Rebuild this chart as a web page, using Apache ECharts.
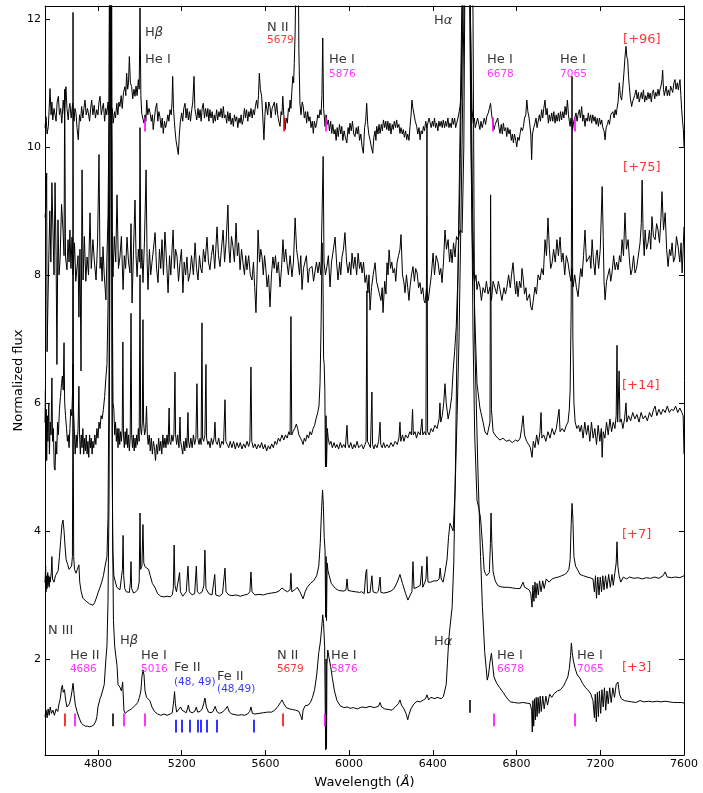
<!DOCTYPE html>
<html>
<head>
<meta charset="utf-8">
<script src="https://cdn.jsdelivr.net/npm/echarts@6/dist/echarts.min.js"></script>
<style>
  html, body { margin: 0; padding: 0; background: #fff; }
  #chart { width: 703px; height: 793px; }
</style>
</head>
<body>
<div id="chart"></div>
<script>
// Wavelength axis ticks and flux axis ticks
const waveTicks = [4800, 5200, 5600, 6000, 6400, 6800, 7200, 7600];
const fluxTicks = [2, 4, 6, 8, 10, 12];

// Epoch tags, top to bottom
const epochs = ['[+96]', '[+75]', '[+14]', '[+7]', '[+3]'];

// Spectra as [wavelength (Å), normalized flux + offset]
const spec96 = [[4547,10.3],[4552,10.47],[4557,10.2],[4563,10.32],[4567,10.6],[4571,10.91],[4576,10.5],[4580,10.7],[4584,10.42],[4590,10.6],[4595,10.58],[4600,10.4],[4605,10.7],[4611,10.79],[4616,10.5],[4622,10.6],[4627,10.37],[4630,10.5],[4634,10.73],[4640,10.5],[4647,10.94],[4652,10.6],[4658,10.42],[4662,10.6],[4666,10.68],[4672,10.45],[4679,10.68],[4686,10.4],[4690,10.6],[4695,10.53],[4700,10.3],[4706,10.11],[4712,10.5],[4717,10.4],[4722,10.63],[4728,10.45],[4733,10.6],[4738,10.73],[4744,10.5],[4750,10.6],[4754,10.53],[4760,10.4],[4765,10.6],[4770,10.73],[4776,10.5],[4782,10.65],[4788,10.45],[4794,10.58],[4800,10.5],[4805,10.7],[4810,10.79],[4816,10.5],[4821,10.6],[4826,10.68],[4832,10.4],[4837,10.6],[4842,10.5],[4848,10.7],[4853,10.5],[4858,10.65],[4863,10.45],[4868,10.6],[4873,10.37],[4879,10.55],[4884,10.45],[4890,10.68],[4895,10.5],[4900,10.7],[4905,10.63],[4911,10.8],[4916,10.6],[4922,10.85],[4929,10.94],[4933,10.8],[4937,11.15],[4942,10.9],[4946,11.0],[4950,11.41],[4955,11.0],[4961,10.94],[4966,10.75],[4972,10.9],[4977,10.79],[4982,10.95],[4987,10.8],[4993,11.05],[4997,10.9],[5001,12.17],[5005,10.8],[5009,10.53],[5014,10.45],[5020,10.37],[5025,10.5],[5029,10.4],[5033,10.73],[5038,10.5],[5044,10.6],[5049,10.53],[5055,10.4],[5060,10.5],[5064,10.27],[5070,10.45],[5075,10.6],[5081,10.68],[5086,10.4],[5091,10.55],[5096,10.47],[5102,10.3],[5107,10.45],[5112,10.21],[5118,10.4],[5123,10.3],[5128,10.37],[5134,10.5],[5139,10.4],[5144,10.58],[5150,10.5],[5154,10.7],[5157,11.1],[5161,10.6],[5165,10.4],[5168,10.27],[5173,10.1],[5178,10.0],[5184,9.88],[5189,10.2],[5194,10.4],[5200,10.53],[5205,10.4],[5210,10.6],[5216,10.68],[5221,10.45],[5226,10.6],[5232,10.42],[5237,10.55],[5242,10.4],[5248,10.58],[5253,10.7],[5259,11.1],[5263,10.6],[5268,10.5],[5272,10.42],[5278,10.6],[5283,10.45],[5288,10.58],[5293,10.4],[5298,10.6],[5303,10.68],[5309,10.45],[5314,10.6],[5320,10.47],[5325,10.6],[5330,10.4],[5335,10.58],[5340,10.45],[5346,10.55],[5351,10.37],[5356,10.5],[5361,10.4],[5367,10.58],[5372,10.42],[5378,10.55],[5383,10.47],[5388,10.6],[5394,10.45],[5399,10.63],[5404,10.45],[5410,10.5],[5415,10.37],[5420,10.55],[5426,10.4],[5431,10.53],[5436,10.35],[5442,10.45],[5447,10.32],[5452,10.5],[5458,10.4],[5463,10.47],[5468,10.3],[5474,10.45],[5479,10.37],[5484,10.5],[5489,10.35],[5494,10.42],[5500,10.6],[5505,10.45],[5510,10.58],[5516,10.4],[5521,10.55],[5526,10.47],[5531,10.6],[5537,10.45],[5542,10.58],[5547,10.5],[5553,10.65],[5558,10.73],[5563,10.6],[5567,10.8],[5571,11.15],[5576,10.9],[5582,10.79],[5587,10.5],[5593,10.11],[5598,10.5],[5602,10.7],[5606,10.68],[5611,10.5],[5616,10.7],[5622,10.63],[5627,10.45],[5632,10.6],[5638,10.58],[5643,10.7],[5648,10.5],[5654,10.68],[5659,10.5],[5664,10.4],[5670,10.32],[5675,10.55],[5679,10.5],[5683,10.79],[5688,10.5],[5694,10.27],[5699,10.45],[5705,10.37],[5710,10.6],[5714,10.55],[5718,10.73],[5722,10.6],[5726,10.85],[5731,11.1],[5735,11.0],[5738,11.3],[5742,11.78],[5746,12.6],[5750,13.5],[5754,13.5],[5757,13.0],[5760,11.5],[5765,10.68],[5770,10.5],[5776,10.7],[5781,10.63],[5786,10.45],[5792,10.55],[5797,10.37],[5802,10.55],[5808,10.4],[5813,10.47],[5818,10.3],[5824,10.4],[5829,10.21],[5834,10.4],[5840,10.3],[5845,10.37],[5850,10.5],[5856,10.45],[5861,10.58],[5866,10.5],[5870,10.8],[5874,11.7],[5878,10.6],[5882,10.45],[5885,10.32],[5890,10.5],[5896,10.35],[5901,10.42],[5906,10.25],[5912,10.4],[5917,10.21],[5922,10.35],[5928,10.2],[5933,10.27],[5938,10.1],[5943,10.3],[5948,10.16],[5954,10.35],[5960,10.2],[5965,10.32],[5970,10.1],[5976,10.25],[5982,10.15],[5989,10.06],[5995,10.3],[6000,10.2],[6004,10.37],[6010,10.25],[6016,10.4],[6022,10.2],[6028,10.16],[6034,10.3],[6039,10.2],[6044,10.32],[6050,10.1],[6056,10.2],[6062,10.0],[6068,9.9],[6074,10.3],[6079,10.4],[6084,10.68],[6089,10.35],[6094,10.2],[6100,10.11],[6106,10.0],[6113,9.9],[6118,10.15],[6124,10.25],[6128,10.1],[6132,10.32],[6138,10.2],[6143,10.35],[6148,10.21],[6154,10.35],[6159,10.25],[6164,10.42],[6170,10.3],[6175,10.4],[6180,10.27],[6185,10.4],[6190,10.25],[6195,10.37],[6200,10.2],[6206,10.35],[6211,10.27],[6216,10.4],[6222,10.3],[6227,10.42],[6232,10.3],[6238,10.35],[6243,10.21],[6248,10.3],[6254,10.2],[6259,10.27],[6264,10.15],[6270,10.25],[6275,10.11],[6280,10.2],[6286,10.1],[6291,10.32],[6296,10.5],[6300,10.73],[6305,10.6],[6310,10.63],[6316,10.4],[6323,10.32],[6328,10.2],[6334,10.3],[6339,10.11],[6344,10.25],[6350,10.2],[6355,10.32],[6360,10.25],[6366,10.4],[6371,10.3],[6376,10.32],[6382,10.45],[6387,10.47],[6392,10.3],[6398,10.4],[6403,10.32],[6408,10.45],[6413,10.3],[6418,10.37],[6424,10.25],[6429,10.4],[6434,10.32],[6440,10.4],[6445,10.3],[6450,10.42],[6456,10.3],[6461,10.4],[6466,10.32],[6472,10.45],[6477,10.3],[6482,10.37],[6488,10.3],[6493,10.45],[6498,10.35],[6504,10.45],[6509,10.3],[6514,10.37],[6520,10.45],[6526,10.55],[6530,10.63],[6535,10.8],[6538,11.0],[6542,11.8],[6548,13],[6560,14],[6575,13],[6582,11.5],[6587,10.6],[6593,10.37],[6598,10.45],[6603,10.3],[6609,10.32],[6614,10.45],[6620,10.35],[6625,10.27],[6630,10.4],[6636,10.3],[6641,10.32],[6646,10.45],[6652,10.35],[6658,10.48],[6665,10.53],[6670,10.6],[6676,10.68],[6681,10.5],[6686,10.4],[6692,10.27],[6698,10.35],[6705,10.32],[6710,10.45],[6716,10.3],[6721,10.21],[6727,10.35],[6732,10.2],[6737,10.37],[6742,10.25],[6748,10.3],[6753,10.16],[6758,10.3],[6764,10.2],[6769,10.27],[6775,10.1],[6780,10.2],[6785,10.06],[6790,10.2],[6796,10.1],[6801,10.0],[6806,10.15],[6812,10.1],[6817,10.21],[6822,10.3],[6828,10.25],[6833,10.32],[6838,10.45],[6844,10.5],[6849,10.73],[6854,10.55],[6860,10.45],[6864,10.42],[6868,10.2],[6872,9.8],[6876,10.2],[6882,10.3],[6888,10.37],[6893,10.45],[6898,10.3],[6904,10.32],[6909,10.5],[6914,10.4],[6920,10.58],[6925,10.45],[6930,10.6],[6936,10.73],[6941,10.5],[6946,10.6],[6952,10.37],[6957,10.5],[6962,10.4],[6968,10.53],[6973,10.4],[6978,10.55],[6984,10.37],[6989,10.5],[6994,10.4],[7000,10.53],[7005,10.4],[7010,10.55],[7015,10.42],[7021,10.55],[7026,10.45],[7032,10.63],[7037,10.5],[7043,10.73],[7048,10.5],[7052,10.4],[7056,10.32],[7060,10.45],[7064,10.35],[7068,10.27],[7073,10.4],[7078,10.45],[7084,10.53],[7089,10.4],[7094,10.5],[7100,10.58],[7105,10.45],[7111,10.63],[7116,10.4],[7121,10.5],[7127,10.32],[7132,10.45],[7138,10.4],[7143,10.53],[7148,10.4],[7154,10.5],[7159,10.37],[7164,10.5],[7170,10.4],[7175,10.47],[7180,10.35],[7186,10.45],[7191,10.32],[7196,10.45],[7202,10.35],[7207,10.42],[7212,10.3],[7218,10.25],[7223,10.11],[7228,10.3],[7234,10.35],[7239,10.42],[7244,10.35],[7250,10.5],[7255,10.47],[7260,10.55],[7266,10.45],[7271,10.58],[7276,10.5],[7279,10.58],[7285,10.7],[7291,11.0],[7296,10.8],[7302,10.73],[7307,10.9],[7314,11.2],[7318,11.4],[7323,11.57],[7327,11.4],[7331,11.36],[7335,11.1],[7339,10.94],[7344,10.75],[7350,10.63],[7354,10.7],[7358,10.73],[7364,10.8],[7371,10.89],[7376,10.75],[7382,10.85],[7386,10.7],[7390,10.73],[7396,10.85],[7401,10.75],[7406,10.89],[7412,10.7],[7417,10.8],[7422,10.73],[7428,10.85],[7433,10.75],[7438,10.84],[7444,10.7],[7449,10.85],[7454,10.89],[7460,10.75],[7465,10.85],[7470,10.79],[7476,10.9],[7481,10.8],[7485,10.89],[7490,10.95],[7495,11.05],[7498,11.2],[7502,10.9],[7506,10.8],[7510,10.79],[7515,10.95],[7520,10.8],[7525,10.89],[7531,10.8],[7536,10.95],[7541,10.94],[7546,10.85],[7552,11.0],[7557,11.05],[7562,10.9],[7568,11.0],[7573,10.89],[7578,11.0],[7581,11.05],[7585,10.8],[7589,10.58],[7593,10.4],[7597,10.27],[7600,10.0]];

const spec75 = [[4547,8.9],[4552,9.06],[4555,9.59],[4557,6.8],[4561,7.56],[4566,8.4],[4570,9.0],[4575,8.2],[4580,9.44],[4585,8.7],[4590,8.0],[4595,9.44],[4600,8.3],[4604,6.6],[4609,8.86],[4614,8.0],[4619,8.23],[4626,9.1],[4633,8.7],[4638,8.3],[4641,10.9],[4645,8.28],[4652,8.08],[4657,8.55],[4662,8.2],[4666,8.7],[4671,8.1],[4676,8.59],[4681,8.0],[4688,8.5],[4694,7.9],[4700,7.88],[4705,8.3],[4709,7.34],[4714,8.4],[4719,6.5],[4724,9.64],[4729,7.92],[4735,8.6],[4742,7.9],[4748,8.28],[4755,8.0],[4762,8.97],[4768,8.1],[4776,8.55],[4783,8.2],[4791,7.92],[4798,8.5],[4805,9.88],[4810,8.1],[4815,8.28],[4820,7.9],[4824,8.44],[4830,8.0],[4838,7.61],[4843,8.3],[4848,8.91],[4853,10.5],[4858,16],[4863,12],[4867,8.4],[4872,7.97],[4878,8.6],[4885,8.2],[4891,9.25],[4898,8.1],[4905,8.28],[4912,8.6],[4920,7.77],[4926,8.3],[4932,8.1],[4939,8.59],[4946,8.2],[4953,8.03],[4958,8.8],[4963,7.56],[4970,8.4],[4977,9.17],[4982,8.3],[4987,7.97],[4993,8.4],[4998,8.2],[5001,10.3],[5005,8.1],[5010,8.4],[5015,7.88],[5022,8.5],[5030,9.64],[5035,8.2],[5039,7.77],[5046,8.4],[5052,8.0],[5058,8.19],[5065,8.4],[5073,8.66],[5080,8.1],[5087,7.88],[5094,8.4],[5100,8.1],[5106,8.55],[5113,8.0],[5120,8.67],[5128,8.2],[5135,7.72],[5142,8.3],[5148,8.0],[5154,8.39],[5159,8.7],[5165,8.1],[5171,8.4],[5178,8.28],[5185,7.9],[5192,8.19],[5199,8.4],[5206,7.72],[5212,8.2],[5219,8.0],[5225,8.28],[5232,7.9],[5240,8.03],[5247,8.3],[5256,8.0],[5264,8.5],[5271,8.1],[5278,7.92],[5285,8.3],[5291,8.1],[5297,8.03],[5304,8.4],[5312,8.2],[5321,8.59],[5328,8.2],[5335,8.08],[5342,8.3],[5350,8.47],[5358,8.1],[5363,8.4],[5369,8.75],[5376,8.3],[5383,8.13],[5390,8.4],[5398,8.7],[5405,8.2],[5412,8.5],[5421,9.09],[5426,8.4],[5431,8.19],[5438,8.6],[5445,8.44],[5452,8.2],[5460,8.81],[5466,8.3],[5472,8.5],[5479,8.08],[5486,8.4],[5493,8.19],[5500,8.0],[5506,8.3],[5512,8.08],[5520,8.3],[5528,8.0],[5536,7.92],[5543,8.2],[5549,7.8],[5555,7.41],[5560,8.0],[5565,8.7],[5572,8.2],[5578,8.4],[5584,8.28],[5590,8.0],[5596,8.3],[5602,8.1],[5608,7.81],[5615,8.0],[5622,7.5],[5629,8.0],[5636,8.28],[5642,8.1],[5648,8.3],[5655,8.03],[5662,8.2],[5670,7.81],[5677,8.1],[5684,8.55],[5690,8.2],[5697,8.4],[5703,8.19],[5710,8.0],[5718,8.3],[5727,7.97],[5734,8.2],[5742,8.89],[5749,8.4],[5756,8.23],[5763,8.0],[5769,8.3],[5775,7.77],[5782,8.1],[5789,8.08],[5796,8.3],[5804,7.88],[5810,8.1],[5816,8.13],[5823,8.13],[5830,7.9],[5837,7.92],[5844,8.2],[5851,8.03],[5858,8.2],[5865,8.0],[5871,7.97],[5876,9.85],[5880,8.2],[5887,8.0],[5894,8.13],[5901,8.3],[5909,7.81],[5916,8.2],[5925,8.4],[5933,8.59],[5940,8.2],[5947,7.92],[5955,8.2],[5960,8.0],[5966,8.28],[5973,8.4],[5980,8.66],[5988,8.2],[5995,8.03],[6002,8.2],[6008,8.0],[6014,8.34],[6021,8.1],[6028,8.28],[6036,8.0],[6043,8.34],[6050,8.1],[6056,8.2],[6062,8.03],[6069,8.2],[6076,7.88],[6083,8.0],[6090,7.72],[6095,8.0],[6100,7.45],[6107,7.8],[6115,8.0],[6124,8.19],[6131,7.9],[6138,7.88],[6145,7.7],[6152,7.6],[6158,7.8],[6162,7.41],[6170,7.9],[6176,7.7],[6181,8.19],[6186,8.0],[6191,8.39],[6198,8.1],[6204,8.2],[6210,8.03],[6217,8.1],[6223,7.9],[6229,8.19],[6236,8.3],[6243,8.4],[6248,8.63],[6255,8.0],[6261,7.9],[6267,7.72],[6274,8.0],[6280,7.8],[6286,7.6],[6291,7.81],[6298,8.0],[6305,8.13],[6312,7.9],[6318,8.1],[6325,8.03],[6332,7.8],[6339,7.88],[6345,7.7],[6352,7.8],[6358,7.6],[6363,7.56],[6370,7.8],[6378,7.6],[6386,7.81],[6393,8.0],[6401,8.34],[6408,8.0],[6416,8.3],[6425,8.19],[6432,8.0],[6438,8.1],[6444,7.88],[6451,8.2],[6458,8.7],[6465,8.4],[6473,8.55],[6480,8.2],[6486,8.4],[6492,8.19],[6499,8.5],[6506,8.28],[6513,8.6],[6520,8.55],[6530,8.7],[6540,8.66],[6548,10],[6556,14],[6565,16],[6575,13],[6582,10],[6588,8.6],[6592,8.08],[6600,7.9],[6606,8.0],[6611,7.77],[6618,7.9],[6625,7.81],[6632,7.6],[6640,7.8],[6649,7.72],[6656,7.9],[6664,7.7],[6673,7.81],[6680,7.6],[6688,7.9],[6697,7.88],[6705,7.7],[6713,7.9],[6721,7.77],[6730,7.6],[6740,7.8],[6747,7.7],[6754,7.81],[6762,8.0],[6770,7.8],[6776,8.0],[6783,8.19],[6790,7.9],[6796,7.7],[6801,7.9],[6807,7.66],[6814,7.9],[6821,7.8],[6826,8.1],[6831,7.97],[6838,7.7],[6845,7.8],[6850,7.6],[6855,7.61],[6862,7.7],[6868,7.5],[6874,7.45],[6880,7.6],[6888,7.81],[6895,7.7],[6903,8.0],[6912,7.92],[6920,8.1],[6928,8.0],[6936,8.55],[6943,8.3],[6950,8.89],[6957,8.4],[6963,8.1],[6970,8.19],[6977,8.4],[6985,8.2],[6993,8.55],[7000,8.3],[7008,8.59],[7015,8.2],[7022,8.34],[7030,8.0],[7038,8.3],[7046,8.19],[7054,8.0],[7060,7.9],[7065,8.1],[7070,7.81],[7078,8.0],[7086,7.8],[7094,7.66],[7100,7.9],[7107,8.1],[7113,7.97],[7120,8.3],[7127,8.7],[7134,8.2],[7142,8.19],[7150,8.3],[7155,8.1],[7161,8.55],[7168,8.2],[7175,8.0],[7180,8.3],[7185,8.39],[7192,8.1],[7200,8.4],[7209,9.38],[7214,8.6],[7218,7.9],[7223,7.61],[7230,7.9],[7237,7.88],[7244,8.1],[7250,7.9],[7256,8.03],[7264,8.3],[7271,8.08],[7278,8.2],[7285,8.08],[7292,8.3],[7298,8.2],[7304,8.55],[7311,8.3],[7318,8.97],[7325,8.4],[7333,8.55],[7340,8.2],[7346,8.0],[7352,8.08],[7359,8.3],[7366,8.03],[7373,8.1],[7381,8.28],[7390,8.5],[7396,8.8],[7400,9.48],[7405,8.6],[7410,8.3],[7414,8.7],[7421,8.4],[7428,8.5],[7435,8.7],[7441,8.4],[7447,8.91],[7454,8.6],[7462,8.55],[7469,8.8],[7476,8.7],[7483,8.5],[7490,8.9],[7495,9.3],[7502,8.7],[7510,8.97],[7517,8.4],[7524,8.13],[7531,8.4],[7537,8.3],[7543,8.5],[7550,8.2],[7557,8.28],[7564,8.6],[7572,8.44],[7580,8.2],[7586,8.5],[7591,8.03],[7596,8.4],[7600,8.75]];

const spec14 = [[4547,5.69],[4549,6.2],[4551,5.3],[4553,5.9],[4555,5.1],[4558,5.8],[4561,5.4],[4565,6.0],[4568,5.2],[4572,5.7],[4576,5.5],[4580,6.39],[4583,5.4],[4587,5.6],[4591,5.0],[4595,4.95],[4599,5.4],[4603,5.2],[4607,5.7],[4611,5.5],[4616,5.9],[4621,6.1],[4626,6.3],[4630,6.42],[4634,6.2],[4638,6.94],[4641,6.0],[4645,5.8],[4650,5.6],[4654,5.4],[4658,5.5],[4662,5.3],[4666,5.6],[4670,5.9],[4675,5.8],[4679,6.2],[4681,12.1],[4683,5.9],[4687,5.6],[4691,5.2],[4696,5.5],[4700,5.3],[4705,5.6],[4709,6.26],[4712,5.5],[4716,5.2],[4720,5.5],[4724,5.3],[4728,5.6],[4732,5.2],[4736,5.45],[4740,5.25],[4744,5.5],[4748,5.2],[4752,5.4],[4756,5.15],[4760,5.5],[4764,5.3],[4768,5.45],[4772,5.2],[4776,5.4],[4780,5.3],[4785,5.5],[4790,5.35],[4795,5.6],[4800,5.45],[4805,5.7],[4810,5.6],[4815,5.8],[4820,5.75],[4826,5.9],[4832,6.1],[4838,6.4],[4843,6.6],[4848,7.5],[4853,10.5],[4858,15],[4862,16],[4866,12],[4869,7.5],[4872,6.0],[4876,5.9],[4880,5.5],[4884,5.7],[4888,5.4],[4892,5.6],[4896,5.3],[4900,5.6],[4904,5.35],[4908,5.55],[4912,5.4],[4916,5.6],[4919,6.95],[4922,5.5],[4926,5.3],[4930,5.55],[4934,5.35],[4938,5.6],[4942,5.3],[4946,5.5],[4950,5.25],[4954,5.45],[4958,7.4],[4961,5.5],[4965,5.3],[4969,5.5],[4973,5.25],[4977,5.45],[4981,5.3],[4985,5.5],[4989,5.35],[4993,5.6],[4997,5.4],[5001,8.0],[5004,5.6],[5008,5.5],[5012,5.7],[5015,7.3],[5018,5.7],[5023,5.5],[5028,5.6],[5032,5.95],[5036,5.5],[5040,5.35],[5045,5.5],[5050,5.25],[5055,5.45],[5060,5.2],[5065,5.4],[5070,5.3],[5075,5.1],[5080,5.35],[5085,5.2],[5090,5.45],[5095,5.25],[5100,5.4],[5105,5.2],[5110,5.5],[5115,5.3],[5120,5.45],[5125,5.3],[5130,5.5],[5135,5.35],[5140,5.92],[5143,5.4],[5148,5.35],[5153,5.5],[5158,5.4],[5163,5.5],[5168,6.48],[5171,5.5],[5176,5.35],[5181,5.5],[5187,5.3],[5192,5.78],[5195,5.4],[5200,5.3],[5205,5.2],[5210,5.4],[5215,5.25],[5220,5.45],[5225,5.3],[5230,5.85],[5233,5.4],[5238,5.3],[5244,5.45],[5250,5.3],[5256,5.5],[5262,5.35],[5268,5.45],[5273,6.3],[5277,5.45],[5283,5.35],[5288,5.45],[5293,5.35],[5297,7.25],[5300,5.45],[5305,5.4],[5311,5.5],[5316,6.6],[5319,5.45],[5325,5.35],[5330,5.4],[5336,5.3],[5342,5.45],[5348,5.35],[5355,5.45],[5359,5.7],[5363,5.4],[5370,5.35],[5377,5.45],[5384,5.3],[5392,5.4],[5400,5.35],[5407,6.05],[5411,5.4],[5418,5.35],[5425,5.3],[5432,5.4],[5440,5.3],[5448,5.4],[5456,5.28],[5464,5.38],[5472,5.3],[5480,5.38],[5488,5.28],[5496,5.36],[5504,5.3],[5512,5.4],[5520,5.32],[5526,5.4],[5531,6.56],[5535,5.4],[5542,5.3],[5550,5.36],[5558,5.28],[5566,5.35],[5574,5.3],[5582,5.38],[5590,5.28],[5598,5.35],[5606,5.25],[5614,5.33],[5622,5.28],[5630,5.36],[5638,5.3],[5646,5.4],[5654,5.35],[5662,5.45],[5670,5.4],[5679,5.5],[5688,5.42],[5696,5.5],[5704,5.45],[5712,5.55],[5718,5.5],[5722,7.35],[5726,5.5],[5732,5.55],[5740,5.6],[5748,5.67],[5754,5.6],[5760,5.5],[5768,5.45],[5775,5.4],[5780,5.35],[5786,5.45],[5792,5.4],[5799,5.5],[5806,5.45],[5813,5.55],[5820,5.5],[5828,5.6],[5835,5.65],[5842,5.75],[5850,5.85],[5856,5.95],[5861,6.3],[5866,7.2],[5871,8.5],[5875,8.0],[5878,6.7],[5881,6.6],[5884,6.2],[5887,5.0],[5890,5.8],[5892,5.0],[5896,5.6],[5900,5.45],[5906,5.35],[5913,5.4],[5920,5.3],[5928,5.38],[5935,5.3],[5942,5.35],[5950,5.28],[5958,5.38],[5966,5.3],[5974,5.35],[5982,5.3],[5990,5.65],[5994,5.35],[6000,5.3],[6008,5.38],[6016,5.28],[6024,5.35],[6030,5.3],[6038,5.4],[6046,5.3],[6052,5.27],[6060,5.35],[6068,5.28],[6076,5.35],[6081,5.4],[6085,7.75],[6088,5.4],[6095,5.35],[6102,5.3],[6109,6.17],[6112,5.35],[6118,5.28],[6125,5.35],[6133,5.3],[6141,5.4],[6148,5.7],[6151,5.35],[6158,5.3],[6165,5.38],[6172,5.3],[6181,5.35],[6190,5.3],[6200,5.38],[6210,5.32],[6220,5.4],[6230,5.35],[6238,5.45],[6243,5.7],[6247,5.4],[6255,5.5],[6262,5.4],[6270,5.5],[6280,5.45],[6290,5.55],[6298,5.5],[6303,5.9],[6307,5.5],[6315,5.55],[6322,5.45],[6330,5.55],[6340,5.5],[6348,5.75],[6352,5.5],[6360,5.55],[6367,5.5],[6372,10.35],[6375,5.55],[6383,5.5],[6392,5.6],[6400,5.55],[6410,5.65],[6420,5.6],[6430,5.75],[6434,6.0],[6438,5.7],[6445,5.8],[6452,6.0],[6458,6.3],[6464,6.0],[6473,5.75],[6482,5.9],[6490,6.1],[6497,6.5],[6504,6.8],[6512,7.2],[6520,8.0],[6530,9.5],[6540,12],[6552,15],[6568,15],[6580,12],[6590,9],[6600,7.4],[6611,6.3],[6625,5.92],[6640,5.7],[6649,5.55],[6660,5.5],[6668,5.48],[6673,5.7],[6676,9.25],[6680,5.9],[6688,5.55],[6697,5.5],[6710,5.45],[6721,5.42],[6735,5.45],[6750,5.4],[6765,5.42],[6780,5.38],[6795,5.42],[6807,5.4],[6817,5.45],[6824,5.6],[6831,5.8],[6838,5.5],[6848,5.4],[6858,5.35],[6866,5.3],[6874,5.15],[6880,5.4],[6888,5.3],[6896,5.5],[6904,5.35],[6912,5.55],[6917,5.85],[6921,5.45],[6930,5.5],[6940,5.4],[6950,5.55],[6960,5.45],[6970,5.6],[6980,5.5],[6990,5.6],[7003,5.9],[7008,5.55],[7018,5.6],[7028,5.55],[7038,5.65],[7046,5.7],[7052,5.9],[7056,6.2],[7061,7.5],[7065,11.1],[7069,7.0],[7074,6.0],[7080,5.7],[7088,5.6],[7096,5.65],[7103,5.55],[7110,5.65],[7118,5.45],[7126,5.7],[7134,5.5],[7142,5.65],[7150,5.4],[7158,5.7],[7166,5.45],[7174,5.6],[7182,5.35],[7190,5.65],[7198,5.4],[7205,5.6],[7209,5.15],[7214,5.55],[7222,5.45],[7230,5.7],[7238,5.5],[7246,5.75],[7254,5.55],[7262,5.7],[7270,5.6],[7276,5.8],[7280,6.9],[7283,5.7],[7286,6.0],[7290,6.5],[7294,5.7],[7300,5.75],[7308,5.6],[7316,5.75],[7323,6.0],[7327,5.7],[7335,5.8],[7345,5.72],[7355,5.85],[7365,5.75],[7375,5.82],[7385,5.7],[7395,5.85],[7405,5.75],[7415,5.8],[7425,5.72],[7435,5.85],[7445,5.78],[7455,5.9],[7462,5.95],[7470,5.8],[7480,5.9],[7490,5.82],[7500,5.9],[7510,5.85],[7520,5.95],[7530,5.85],[7540,5.9],[7550,5.88],[7560,5.95],[7570,5.85],[7580,5.92],[7590,5.85],[7596,5.8],[7600,5.2]];

const spec7 = [[4547,3.19],[4550,3.45],[4552,3.05],[4555,3.3],[4557,3.1],[4560,3.35],[4562,3.15],[4565,3.3],[4567,3.12],[4570,3.28],[4572,3.2],[4577,3.35],[4580,3.6],[4583,3.25],[4590,3.2],[4597,3.3],[4604,3.3],[4610,3.38],[4616,3.6],[4622,3.85],[4628,4.1],[4633,4.17],[4638,4.0],[4643,3.75],[4648,3.55],[4655,3.48],[4662,3.4],[4668,3.38],[4674,3.45],[4678,3.6],[4681,6.6],[4684,3.6],[4688,3.4],[4695,3.34],[4703,3.35],[4709,3.47],[4713,3.2],[4720,3.05],[4728,2.95],[4736,2.92],[4744,2.9],[4752,2.88],[4760,2.86],[4768,2.85],[4776,2.84],[4784,2.88],[4792,2.95],[4800,3.03],[4810,3.12],[4818,3.2],[4826,3.3],[4834,3.45],[4843,3.6],[4848,4.2],[4853,6.5],[4857,10.5],[4861,14],[4865,10],[4868,5.0],[4871,3.7],[4876,3.3],[4882,3.22],[4890,3.12],[4898,3.1],[4905,3.08],[4912,3.1],[4917,3.4],[4920,3.93],[4923,3.3],[4928,3.1],[4935,3.05],[4943,3.03],[4950,3.04],[4955,3.2],[4958,3.52],[4961,3.1],[4970,3.03],[4980,3.05],[4990,3.08],[4997,3.2],[5001,4.28],[5004,3.4],[5010,3.45],[5015,4.1],[5019,3.5],[5025,3.44],[5034,3.42],[5042,3.4],[5050,3.3],[5060,3.18],[5072,3.12],[5085,3.02],[5100,2.98],[5115,2.97],[5130,2.98],[5145,2.97],[5155,3.0],[5160,3.1],[5164,3.78],[5168,3.15],[5175,3.05],[5183,3.08],[5190,3.35],[5194,3.05],[5205,2.98],[5222,3.05],[5230,3.45],[5236,3.05],[5250,3.0],[5262,3.02],[5270,3.45],[5275,3.05],[5285,3.02],[5298,3.05],[5306,3.15],[5311,3.7],[5316,3.1],[5330,3.02],[5345,3.0],[5358,3.32],[5363,3.0],[5380,2.98],[5395,3.02],[5407,3.42],[5412,3.05],[5425,3.0],[5440,2.99],[5460,3.0],[5480,2.98],[5500,3.0],[5515,3.01],[5526,3.05],[5531,3.36],[5536,3.05],[5550,3.0],[5570,3.01],[5590,3.0],[5610,3.02],[5630,3.03],[5650,3.04],[5665,3.06],[5679,3.11],[5690,3.08],[5705,3.05],[5718,3.08],[5722,3.34],[5726,3.05],[5740,3.08],[5752,3.12],[5765,3.05],[5780,2.94],[5790,3.05],[5800,3.12],[5815,3.18],[5830,3.22],[5845,3.3],[5855,3.45],[5862,3.8],[5868,4.3],[5873,4.64],[5877,4.4],[5881,3.9],[5885,3.7],[5888,2.65],[5890,3.6],[5892,2.6],[5895,3.5],[5899,3.38],[5905,3.3],[5915,3.18],[5923,3.16],[5935,3.1],[5950,3.07],[5975,3.06],[5985,3.08],[5990,3.25],[5995,3.07],[6010,3.06],[6030,3.05],[6050,3.04],[6060,3.05],[6066,3.08],[6072,3.02],[6080,3.35],[6084,3.4],[6088,3.03],[6100,3.04],[6109,3.3],[6114,3.05],[6130,3.03],[6140,3.06],[6148,3.28],[6152,3.04],[6165,3.03],[6181,3.04],[6200,3.06],[6215,3.1],[6230,3.2],[6243,3.32],[6255,3.18],[6270,3.02],[6281,2.92],[6292,3.0],[6300,3.05],[6305,3.52],[6310,3.1],[6325,3.12],[6340,3.15],[6348,3.45],[6352,3.12],[6362,3.2],[6367,3.25],[6372,3.6],[6377,3.2],[6390,3.2],[6405,3.22],[6420,3.22],[6430,3.25],[6435,3.42],[6440,3.25],[6449,3.2],[6458,3.35],[6468,3.56],[6475,3.9],[6482,4.12],[6490,4.1],[6497,4.0],[6506,4.6],[6516,5.8],[6525,7.0],[6535,9.0],[6548,12],[6560,14],[6575,13],[6585,9.5],[6592,7.1],[6600,5.5],[6611,4.48],[6620,4.35],[6628,4.2],[6637,3.8],[6645,3.4],[6650,3.34],[6657,3.3],[6664,3.28],[6670,3.35],[6675,3.8],[6678,4.28],[6682,3.8],[6688,3.36],[6698,3.22],[6710,3.15],[6721,3.13],[6740,3.12],[6760,3.12],[6780,3.11],[6800,3.1],[6817,3.1],[6826,3.13],[6831,3.2],[6838,3.12],[6850,3.1],[6860,3.08],[6868,3.02],[6874,2.81],[6878,3.15],[6883,2.9],[6888,3.2],[6893,2.95],[6898,3.18],[6904,3.0],[6910,3.22],[6917,3.05],[6925,3.22],[6932,3.1],[6942,3.25],[6955,3.2],[6970,3.25],[6985,3.27],[7000,3.28],[7015,3.3],[7030,3.32],[7041,3.35],[7050,3.4],[7056,3.55],[7061,4.1],[7065,4.43],[7069,4.2],[7074,3.6],[7082,3.45],[7094,3.38],[7103,3.32],[7120,3.3],[7137,3.28],[7150,3.27],[7165,3.25],[7172,3.05],[7177,3.3],[7182,2.95],[7188,3.28],[7194,3.0],[7200,3.28],[7206,3.05],[7212,3.3],[7218,3.08],[7225,3.3],[7232,3.1],[7240,3.32],[7248,3.12],[7256,3.32],[7262,3.15],[7270,3.35],[7276,3.5],[7280,3.83],[7284,3.45],[7290,3.3],[7298,3.2],[7310,3.28],[7325,3.25],[7340,3.28],[7360,3.26],[7380,3.27],[7400,3.25],[7420,3.27],[7440,3.26],[7460,3.28],[7480,3.26],[7500,3.3],[7510,3.36],[7520,3.28],[7540,3.27],[7560,3.28],[7580,3.27],[7600,3.3]];

const spec3 = [[4547,1.1],[4552,1.2],[4557,1.08],[4562,1.22],[4567,1.12],[4572,1.25],[4578,1.15],[4585,1.2],[4592,1.12],[4600,1.22],[4608,1.18],[4614,1.3],[4620,1.38],[4626,1.55],[4630,1.59],[4634,1.48],[4640,1.52],[4646,1.35],[4652,1.25],[4658,1.28],[4664,1.3],[4670,1.38],[4676,1.5],[4681,1.62],[4686,1.45],[4692,1.28],[4700,1.18],[4710,1.08],[4720,1.0],[4730,0.97],[4740,0.95],[4750,0.95],[4760,0.94],[4770,0.95],[4780,0.97],[4790,1.03],[4795,1.1],[4800,1.25],[4810,1.38],[4815,1.42],[4822,1.5],[4830,1.6],[4838,2.0],[4843,2.2],[4848,2.9],[4853,4.5],[4858,9],[4862,13],[4866,9],[4870,4.0],[4874,2.6],[4880,2.2],[4886,2.03],[4891,1.9],[4896,1.6],[4905,1.56],[4912,1.5],[4918,1.64],[4924,1.2],[4930,1.15],[4940,1.18],[4950,1.2],[4960,1.22],[4970,1.25],[4980,1.28],[4990,1.32],[4998,1.4],[5005,1.5],[5010,1.72],[5015,1.83],[5020,1.75],[5025,1.5],[5032,1.4],[5040,1.38],[5048,1.35],[5058,1.25],[5070,1.18],[5085,1.14],[5100,1.12],[5115,1.14],[5130,1.12],[5145,1.14],[5155,1.16],[5162,1.35],[5166,1.49],[5170,1.3],[5176,1.17],[5185,1.2],[5195,1.25],[5202,1.2],[5212,1.18],[5222,1.16],[5232,1.28],[5238,1.18],[5250,1.16],[5262,1.18],[5270,1.25],[5276,1.17],[5288,1.18],[5298,1.22],[5305,1.3],[5311,1.39],[5318,1.25],[5328,1.17],[5340,1.16],[5350,1.18],[5360,1.26],[5368,1.18],[5380,1.15],[5395,1.17],[5410,1.22],[5418,1.26],[5428,1.17],[5440,1.14],[5455,1.13],[5470,1.12],[5485,1.13],[5500,1.12],[5515,1.14],[5525,1.18],[5531,1.25],[5538,1.15],[5550,1.14],[5570,1.15],[5590,1.16],[5610,1.17],[5630,1.17],[5645,1.2],[5660,1.26],[5672,1.32],[5680,1.36],[5688,1.3],[5700,1.24],[5715,1.22],[5730,1.21],[5745,1.2],[5760,1.18],[5770,1.1],[5775,1.05],[5780,1.2],[5790,1.27],[5805,1.28],[5815,1.32],[5825,1.4],[5835,1.52],[5845,1.75],[5855,2.1],[5862,2.25],[5868,2.45],[5874,2.69],[5878,2.55],[5883,2.2],[5886,1.2],[5888,0.58],[5890,2.0],[5892,0.6],[5894,1.9],[5898,2.14],[5905,2.0],[5912,1.88],[5920,1.7],[5930,1.5],[5942,1.35],[5957,1.27],[5975,1.24],[5990,1.25],[6005,1.23],[6020,1.24],[6040,1.22],[6060,1.25],[6080,1.24],[6100,1.26],[6120,1.24],[6140,1.26],[6148,1.32],[6155,1.25],[6170,1.22],[6190,1.21],[6205,1.2],[6220,1.25],[6235,1.3],[6243,1.36],[6250,1.28],[6262,1.22],[6272,1.15],[6280,1.05],[6285,1.12],[6295,1.22],[6310,1.3],[6325,1.34],[6340,1.33],[6355,1.36],[6365,1.38],[6372,1.44],[6380,1.36],[6390,1.4],[6400,1.39],[6410,1.38],[6420,1.4],[6430,1.39],[6440,1.38],[6450,1.41],[6458,1.4],[6464,1.6],[6470,1.95],[6476,2.3],[6482,2.5],[6492,2.8],[6500,3.5],[6508,5.0],[6516,7.1],[6528,9.8],[6540,12.5],[6555,14],[6585,14],[6592,12],[6600,7.0],[6615,5.0],[6628,3.6],[6637,2.8],[6648,2.1],[6655,1.85],[6660,1.67],[6666,1.75],[6673,1.95],[6680,2.09],[6686,1.9],[6692,1.72],[6705,1.62],[6720,1.55],[6735,1.48],[6754,1.39],[6770,1.33],[6790,1.32],[6810,1.31],[6830,1.32],[6850,1.31],[6865,1.3],[6872,1.2],[6875,0.86],[6878,1.35],[6882,0.95],[6886,1.38],[6890,1.05],[6894,1.4],[6898,1.1],[6903,1.4],[6908,1.15],[6913,1.42],[6918,1.18],[6925,1.42],[6932,1.22],[6940,1.42],[6948,1.28],[6958,1.45],[6968,1.4],[6980,1.46],[6995,1.5],[7010,1.52],[7025,1.58],[7035,1.65],[7045,1.72],[7052,1.85],[7058,2.05],[7062,2.25],[7066,2.1],[7071,1.98],[7080,1.85],[7090,1.75],[7103,1.7],[7115,1.62],[7130,1.55],[7145,1.5],[7155,1.45],[7165,1.35],[7172,1.08],[7176,1.45],[7181,1.02],[7186,1.48],[7191,1.1],[7196,1.5],[7202,1.15],[7208,1.52],[7214,1.25],[7220,1.55],[7226,1.2],[7232,1.5],[7238,1.3],[7245,1.55],[7252,1.32],[7260,1.55],[7268,1.4],[7276,1.6],[7284,1.64],[7292,1.45],[7300,1.38],[7315,1.35],[7330,1.34],[7350,1.33],[7370,1.32],[7390,1.35],[7410,1.33],[7430,1.34],[7450,1.33],[7470,1.34],[7490,1.33],[7510,1.34],[7530,1.33],[7550,1.32],[7570,1.32],[7590,1.32],[7600,1.31]];

// Line identification marks: [wavelength, colour key]
const marks3 = [[4639,'r'],[4689,'m'],[4873,'k'],[4924,'m'],[5025,'m'],[5683,'r'],[5885,'m'],[6692,'m'],[7079,'m']];
const marksFeII = [5171, 5200, 5240, 5279, 5291, 5322, 5367, 5542];
const markHalpha3 = 6578;
const marks96 = [[5025,'m'],[5689,'r'],[5886,'m'],[6688,'m'],[7079,'m']];

// Annotations: [wavelength, flux, text, colour key, size key]
const notesTop = [
  [5025, 11.78, '{k|H}{ki|β}', 'k', 'L'],
  [5025, 11.36, 'He I', 'k', 'L'],
  [5608, 11.86, 'N II', 'k', 'L'],
  [5608, 11.66, '5679', 'r', 'S'],
  [5904, 11.36, 'He I', 'k', 'L'],
  [5904, 11.14, '5876', 'm', 'S'],
  [6406, 11.97, '{k|H}{ki|α}', 'k', 'L'],
  [6659, 11.36, 'He I', 'k', 'L'],
  [6659, 11.14, '6678', 'm', 'S'],
  [7008, 11.36, 'He I', 'k', 'L'],
  [7008, 11.14, '7065', 'm', 'S']
];
const notesBottom = [
  [4561, 2.45, 'N III', 'k', 'L'],
  [4666, 2.06, 'He II', 'k', 'L'],
  [4666, 1.84, '4686', 'm', 'S'],
  [4905, 2.28, '{k|H}{ki|β}', 'k', 'L'],
  [5006, 2.06, 'He I', 'k', 'L'],
  [5006, 1.84, '5016', 'm', 'S'],
  [5163, 1.86, 'Fe II', 'k', 'L'],
  [5163, 1.64, '(48, 49)', 'b', 'S'],
  [5369, 1.73, 'Fe II', 'k', 'L'],
  [5369, 1.52, '(48,49)', 'b', 'S'],
  [5655, 2.06, 'N II', 'k', 'L'],
  [5655, 1.84, '5679', 'r', 'S'],
  [5913, 2.06, 'He I', 'k', 'L'],
  [5913, 1.84, '5876', 'm', 'S'],
  [6406, 2.27, '{k|H}{ki|α}', 'k', 'L'],
  [6707, 2.06, 'He I', 'k', 'L'],
  [6707, 1.84, '6678', 'm', 'S'],
  [7089, 2.06, 'He I', 'k', 'L'],
  [7089, 1.84, '7065', 'm', 'S']
];
// Epoch tag anchors (wavelength, flux), same order as epochs
const epochAnchors = [[7309, 11.67], [7309, 9.67], [7304, 6.27], [7304, 3.95], [7304, 1.86]];

const colours = { k: '#000000', r: '#ff0000', m: '#ff00ff', b: '#0000ff' };
const FONT = 'DejaVu Sans';

function tickPair(x, y0, y1, c) {
  return [{ coord: [x, y0], lineStyle: { color: colours[c], width: 1.6, type: 'solid' } }, { coord: [x, y1] }];
}

const marks3Lines = marks3.map(m => tickPair(m[0], 0.95, 1.15, m[1]))
  .concat(marksFeII.map(x => tickPair(x, 0.85, 1.05, 'b')))
  .concat([tickPair(markHalpha3, 1.16, 1.36, 'k')]);
const marks96Lines = marks96.map(m => tickPair(m[0], 10.24, 10.46, m[1]));

function spectrumSeries(name, data, markLines) {
  const s = {
    name: name,
    type: 'line',
    data: data,
    showSymbol: false,
    symbol: 'none',
    clip: true,
    silent: true,
    lineStyle: { color: '#000', width: 1 },
    z: 2
  };
  if (markLines) {
    s.markLine = {
      silent: true, symbol: 'none', animation: false,
      label: { show: false },
      data: markLines
    };
  }
  return s;
}

const richStyles = {
  k: { fontFamily: FONT, fontSize: 13, color: '#000' },
  ki: { fontFamily: FONT, fontSize: 13, color: '#000', fontStyle: 'italic' }
};

function noteItem(n) {
  return {
    value: [n[0], n[1]],
    label: {
      formatter: n[2],
      color: colours[n[3]],
      fontSize: n[4] === 'L' ? 13 : 10.5
    }
  };
}

const noteData = notesTop.concat(notesBottom).map(noteItem)
  .concat(epochs.map((t, i) => ({
    value: epochAnchors[i],
    label: { formatter: t, color: '#ff0000', fontSize: 13 }
  })));

const chart = echarts.init(document.getElementById('chart'), null, { renderer: 'canvas' });

const axisCommon = {
  type: 'value',
  splitLine: { show: false },
  axisLine: { show: true, onZero: false, lineStyle: { color: '#000', width: 1 } }
};
const plainNumber = v => String(v);

chart.setOption({
  animation: false,
  backgroundColor: '#ffffff',
  grid: { left: 45, right: 19, top: 6, bottom: 38, containLabel: false, outerBoundsMode: 'none' },
  xAxis: [
    Object.assign({}, axisCommon, {
      position: 'bottom', min: 4547, max: 7600,
      axisTick: { show: true, inside: true, length: 5, customValues: waveTicks, lineStyle: { color: '#000' } },
      axisLabel: { show: true, customValues: waveTicks, formatter: plainNumber, margin: 4, color: '#000', fontSize: 11, fontFamily: FONT },
      name: '{n|Wavelength (}{i|Å}{n|)}',
      nameLocation: 'middle', nameGap: 21,
      nameTextStyle: {
        fontFamily: FONT, fontSize: 13, color: '#000',
        rich: {
          n: { fontFamily: FONT, fontSize: 13, color: '#000' },
          i: { fontFamily: FONT, fontSize: 13, color: '#000', fontStyle: 'italic' }
        }
      }
    }),
    Object.assign({}, axisCommon, {
      position: 'top', min: 4547, max: 7600,
      axisTick: { show: true, inside: true, length: 5, customValues: waveTicks, lineStyle: { color: '#000' } },
      axisLabel: { show: false }
    })
  ],
  yAxis: [
    Object.assign({}, axisCommon, {
      position: 'left', min: 0.5, max: 12.2,
      axisTick: { show: true, inside: true, length: 5, customValues: fluxTicks, lineStyle: { color: '#000' } },
      axisLabel: { show: true, customValues: fluxTicks, formatter: plainNumber, margin: 4, color: '#000', fontSize: 11, fontFamily: FONT },
      name: 'Normalized flux',
      nameLocation: 'middle', nameGap: 20, nameRotate: 90, nameMoveOverlap: false,
      nameTextStyle: { fontFamily: FONT, fontSize: 13, color: '#000' }
    }),
    Object.assign({}, axisCommon, {
      position: 'right', min: 0.5, max: 12.2,
      axisTick: { show: true, inside: true, length: 5, customValues: fluxTicks, lineStyle: { color: '#000' } },
      axisLabel: { show: false }
    })
  ],
  series: [
    spectrumSeries('[+96]', spec96, marks96Lines),
    spectrumSeries('[+75]', spec75),
    spectrumSeries('[+14]', spec14),
    spectrumSeries('[+7]', spec7),
    spectrumSeries('[+3]', spec3, marks3Lines),
    {
      name: 'annotations',
      type: 'scatter',
      symbolSize: 0,
      silent: true,
      z: 5,
      data: noteData,
      label: {
        show: true,
        position: 'right',
        distance: 0,
        fontFamily: FONT,
        rich: richStyles
      }
    }
  ]
});
</script>
</body>
</html>
